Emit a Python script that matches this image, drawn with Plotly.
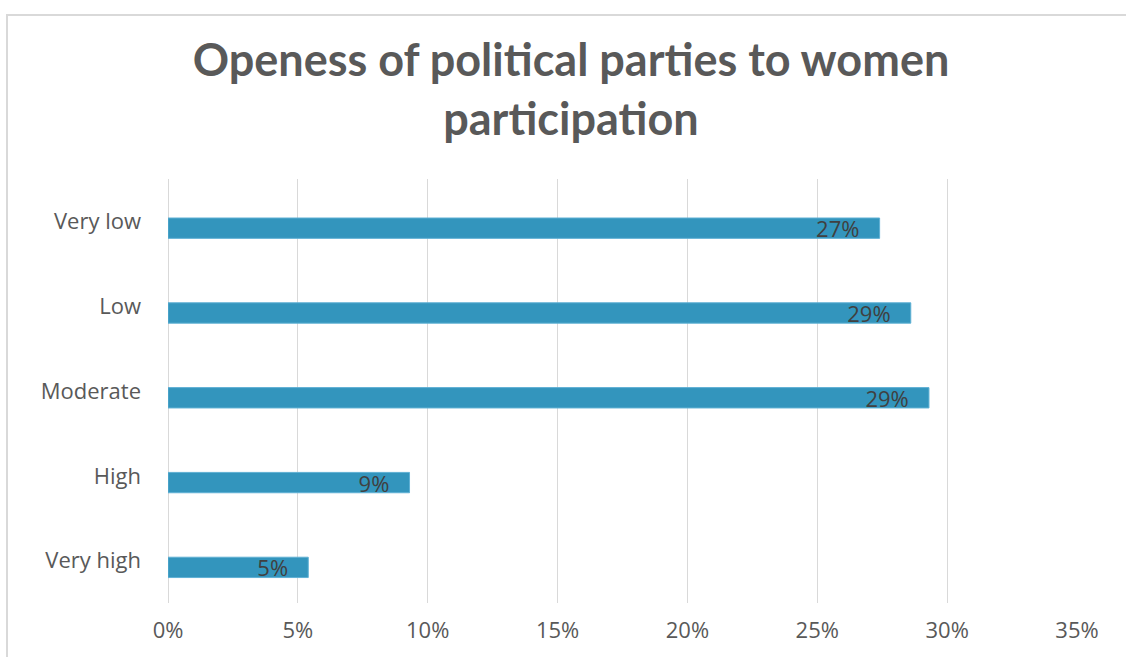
import plotly.graph_objects as go

categories = ["Very low", "Low", "Moderate", "High", "Very high"]
values = [0.274, 0.286, 0.293, 0.093, 0.054]
labels = ["27%", "29%", "29%", "9%", "5%"]
tick_vals = [0, 0.05, 0.10, 0.15, 0.20, 0.25, 0.30, 0.35]
tick_text = ["0%", "5%", "10%", "15%", "20%", "25%", "30%", "35%"]

W, H = 1126, 657
L, R, T, B = 168, 49, 179, 54
pw, ph = W - L - R, H - T - B

fig = go.Figure()
fig.add_trace(go.Bar(
    y=categories, x=values, orientation="h",
    width=0.24, offset=-0.20,
    marker=dict(color="#3395bd", line=dict(color="#5fb0d4", width=1)),
    text=labels, texttemplate="%{text}\u00a0\u00a0\u00a0",
    textposition="inside", insidetextanchor="end",
    constraintext="none",
    textfont=dict(family="Open Sans, DejaVu Sans", size=22, color="#404040"),
    cliponaxis=False,
))

fig.update_layout(
    width=W, height=H,
    margin=dict(l=L, r=R, t=T, b=B),
    paper_bgcolor="white", plot_bgcolor="white",
    showlegend=False,
    title=dict(
        text="<b>Openess of political parties to women<br>participation</b>",
        x=571 / W, xanchor="center",
        y=1 - 76 / H, yanchor="middle",
        font=dict(family="Lato, Open Sans", size=45, color="#595959"),
    ),
    xaxis=dict(
        range=[0, 0.35], tickvals=tick_vals, ticktext=tick_text,
        showgrid=True, gridcolor="#d9d9d9", gridwidth=1,
        zeroline=True, zerolinecolor="#d9d9d9", zerolinewidth=1,
        showline=False, ticks="",
        ticklabelstandoff=12,
        tickfont=dict(family="Open Sans, DejaVu Sans", size=22, color="#595959"),
        fixedrange=True,
    ),
    yaxis=dict(
        categoryorder="array", categoryarray=categories[::-1],
        showgrid=False, zeroline=False, showline=False, ticks="",
        ticklabelstandoff=26,
        tickfont=dict(family="Open Sans, DejaVu Sans", size=22, color="#595959"),
        range=[-0.5, 4.5], fixedrange=True,
    ),
    shapes=[dict(
        type="rect", xref="paper", yref="paper",
        x0=(7 - L) / pw, x1=(W + 10 - L) / pw,
        y0=-(H + 10 - T - ph) / ph, y1=(H - B - 15) / ph,
        line=dict(color="#d9d9d9", width=2), fillcolor="rgba(0,0,0,0)",
        layer="below",
    )],
)

fig.write_html("out.html")
